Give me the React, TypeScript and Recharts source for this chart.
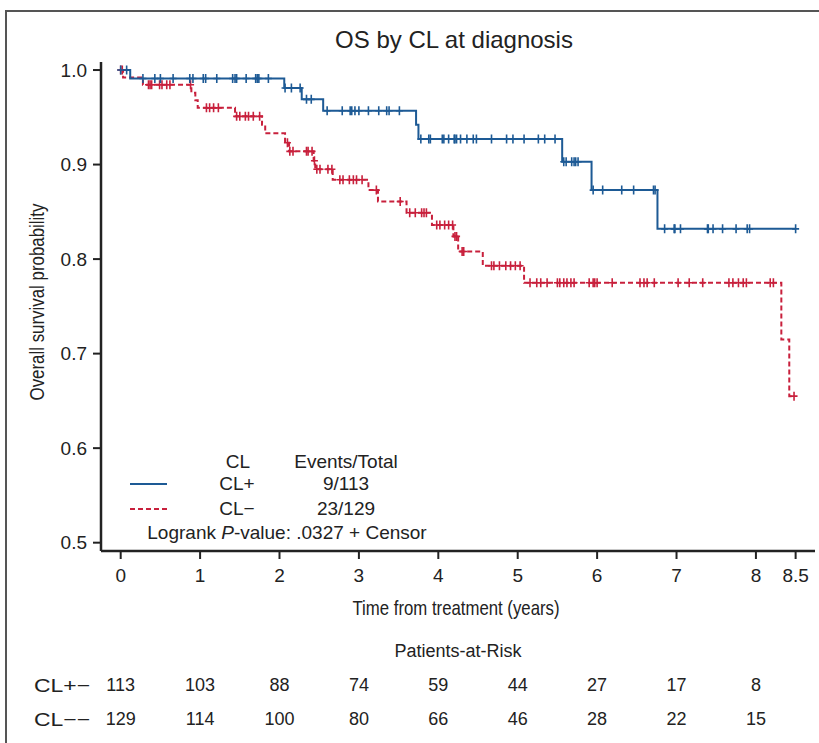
import React from "react";
import { ComposedChart, Line, Scatter, XAxis, YAxis } from "recharts";

const FONT = "'Liberation Sans', Arial, sans-serif";
const NARROW = "'Liberation Sans Narrow', 'Liberation Sans', Arial, sans-serif";
const BLUE = "#1d5a95";
const RED = "#c8203c";
const INK = "#222";

// CL+ Kaplan-Meier steps (years, survival)
const clPosTimes = [0, 0.12, 2.06, 2.28, 2.55, 3.72, 3.75, 5.56, 5.93, 6.76, 8.5];
const clPosSurv = [1.0, 0.991, 0.981, 0.969, 0.957, 0.942, 0.927, 0.903, 0.873, 0.832, 0.832];
const clPosCensor = [
  0, 0.075, 0.28, 0.43, 0.5, 0.66, 0.87, 0.91, 1.04, 1.07, 1.21, 1.41, 1.44, 1.46, 1.58, 1.7, 1.72,
  1.74, 1.86, 2.07, 2.15, 2.26, 2.34, 2.4, 2.6, 2.79, 2.89, 2.91, 2.95, 3.0, 3.12, 3.25, 3.35, 3.38,
  3.51, 3.78, 3.88, 3.9, 4.05, 4.07, 4.13, 4.2, 4.21, 4.23, 4.28, 4.36, 4.44, 4.48, 4.67, 4.86, 4.94,
  5.08, 5.26, 5.34, 5.47, 5.58, 5.61, 5.68, 5.71, 5.73, 5.76, 5.95, 6.07, 6.31, 6.46, 6.71, 6.73,
  6.85, 6.97, 6.98, 7.05, 7.39, 7.4, 7.46, 7.58, 7.75, 7.89, 7.92, 8.5,
];

// CL− Kaplan-Meier steps
const clNegTimes = [
  0, 0.03, 0.28, 0.89, 0.94, 0.97, 1.44, 1.78, 1.82, 2.07, 2.12, 2.43, 2.45, 2.67, 3.12, 3.24, 3.6,
  3.92, 4.19, 4.25, 4.56, 5.08, 8.32, 8.42, 8.48,
];
const clNegSurv = [
  1.0, 0.992, 0.9845, 0.976, 0.968, 0.96, 0.951, 0.942, 0.933, 0.923, 0.914, 0.904, 0.895, 0.884,
  0.873, 0.861, 0.849, 0.836, 0.824, 0.808, 0.793, 0.775, 0.715, 0.655, 0.655,
];
const clNegCensor = [
  0, 0.02, 0.35, 0.37, 0.39, 0.49, 0.52, 0.58, 0.62, 0.88, 1.08, 1.12, 1.17, 1.23, 1.46, 1.5, 1.57,
  1.61, 1.67, 1.75, 2.1, 2.13, 2.17, 2.34, 2.36, 2.41, 2.44, 2.47, 2.51, 2.61, 2.66, 2.76, 2.8, 2.88,
  2.93, 2.97, 3.04, 3.22, 3.52, 3.64, 3.71, 3.79, 3.82, 3.85, 3.98, 4.02, 4.08, 4.13, 4.18, 4.21,
  4.23, 4.3, 4.32, 4.67, 4.7, 4.77, 4.85, 4.91, 4.97, 5.03, 5.155, 5.24, 5.29, 5.37, 5.5, 5.53, 5.58,
  5.62, 5.67, 5.71, 5.9, 5.95, 5.97, 6.0, 6.19, 6.54, 6.59, 6.63, 6.72, 7.02, 7.16, 7.33, 7.66, 7.71,
  7.78, 7.84, 7.88, 8.18, 8.22, 8.48,
];

const xTicks = [0, 1, 2, 3, 4, 5, 6, 7, 8, 8.5];
const yTicks = [0.5, 0.6, 0.7, 0.8, 0.9, 1.0];
const X_DOMAIN: [number, number] = [-0.248, 8.744];

// Patients-at-risk table
const riskGroups = ["CL+−", "CL−−"];
const riskTimes = [0, 1, 2, 3, 4, 5, 6, 7, 8];
const riskPos = [113, 103, 88, 74, 59, 44, 27, 17, 8];
const riskNeg = [129, 114, 100, 80, 66, 46, 28, 22, 15];

function toSteps(times: number[], surv: number[]) {
  return times.map((t, i) => ({ t, s: surv[i] }));
}

function survAt(times: number[], surv: number[], t: number) {
  let s = surv[0];
  for (let i = 0; i < times.length; i++) if (times[i] <= t) s = surv[i];
  return s;
}

function toCensor(times: number[], surv: number[], cens: number[]) {
  return cens.map((t) => ({ t, s: survAt(times, surv, t) }));
}

const plusShape = (color: string) => (p: any) => (
  <path
    d={`M${p.cx - 3.5},${p.cy}h7M${p.cx},${p.cy - 4.5}v9`}
    stroke={color}
    strokeWidth={1.6}
    fill="none"
  />
);

const numberShape = (p: any) => (
  <text
    x={p.cx}
    y={p.cy}
    textAnchor="middle"
    dominantBaseline="central"
    fontSize={18}
    fontFamily={FONT}
    fill={INK}
  >
    {p.payload?.n}
  </text>
);

// row label, a bit wider than the default glyphs
const RowTick = (p: any) => (
  <text
    x={p.x}
    y={p.y}
    textAnchor="end"
    dominantBaseline="central"
    fontSize={19}
    fontFamily={FONT}
    fill={INK}
    textLength={56}
    lengthAdjust="spacingAndGlyphs"
  >
    {p.payload?.value}
  </text>
);

const centered = (x: number, y: number, size: number): React.CSSProperties => ({
  position: "absolute",
  left: x,
  top: y,
  transform: "translate(-50%, -50%)",
  fontSize: size,
  fontFamily: FONT,
  color: INK,
  lineHeight: 1,
  whiteSpace: "nowrap",
});

export default function App() {
  const posSteps = toSteps(clPosTimes, clPosSurv);
  const negSteps = toSteps(clNegTimes, clNegSurv);
  const posCens = toCensor(clPosTimes, clPosSurv, clPosCensor);
  const negCens = toCensor(clNegTimes, clNegSurv, clNegCensor);

  const riskData = [
    ...riskTimes.map((t, i) => ({ t, group: riskGroups[0], n: riskPos[i] })),
    ...riskTimes.map((t, i) => ({ t, group: riskGroups[1], n: riskNeg[i] })),
  ];

  return (
    <div style={{ position: "absolute", left: 0, top: 0, width: 819, height: 743, overflow: "hidden", background: "#fff" }}>
      {/* frame */}
      <div style={{ position: "absolute", left: 5, top: 10, width: 840, height: 760, borderTop: "2px solid #555", borderLeft: "2px solid #555" }} />

      <div style={centered(454, 40, 24)}>OS by CL at diagnosis</div>

      <div style={{ position: "absolute", left: 0, top: 0 }}>
        <ComposedChart width={819} height={743} margin={{ top: 62, right: 4, bottom: 132, left: 41 }}>
          <XAxis
            type="number"
            dataKey="t"
            domain={X_DOMAIN}
            allowDataOverflow
            ticks={xTicks}
            interval={0}
            tickFormatter={(v: number) => String(v)}
            height={60}
            tickSize={8}
            tickMargin={10}
            axisLine={{ stroke: INK, strokeWidth: 2.5 }}
            tickLine={{ stroke: INK, strokeWidth: 2 }}
            tick={{ fill: INK, fontSize: 19, fontFamily: FONT }}
          />
          <YAxis
            type="number"
            dataKey="s"
            domain={[0.4912, 1.0085]}
            allowDataOverflow
            ticks={yTicks}
            interval={0}
            tickFormatter={(v: number) => v.toFixed(1)}
            width={60}
            tickSize={8}
            tickMargin={6}
            axisLine={{ stroke: INK, strokeWidth: 2.5 }}
            tickLine={{ stroke: INK, strokeWidth: 2 }}
            tick={{ fill: INK, fontSize: 19, fontFamily: FONT }}
          />
          <Line
            data={negSteps}
            dataKey="s"
            type="stepAfter"
            stroke={RED}
            strokeWidth={2}
            strokeDasharray="5 3"
            dot={false}
            activeDot={false}
            isAnimationActive={false}
          />
          <Line
            data={posSteps}
            dataKey="s"
            type="stepAfter"
            stroke={BLUE}
            strokeWidth={2}
            dot={false}
            activeDot={false}
            isAnimationActive={false}
          />
          <Scatter data={negCens} dataKey="s" shape={plusShape(RED)} isAnimationActive={false} />
          <Scatter data={posCens} dataKey="s" shape={plusShape(BLUE)} isAnimationActive={false} />
        </ComposedChart>
      </div>

      {/* axis titles */}
      <svg width={819} height={743} style={{ position: "absolute", left: 0, top: 0, pointerEvents: "none" }}>
        <text
          x={456}
          y={615}
          textAnchor="middle"
          fontSize={21}
          fontFamily={NARROW}
          fill={INK}
          textLength={207}
          lengthAdjust="spacingAndGlyphs"
        >
          Time from treatment (years)
        </text>
        <text
          transform="translate(44, 302) rotate(-90)"
          textAnchor="middle"
          fontSize={21}
          fontFamily={NARROW}
          fill={INK}
          textLength={197}
          lengthAdjust="spacingAndGlyphs"
        >
          Overall survival probability
        </text>
      </svg>

      {/* legend */}
      <div style={centered(238, 461, 19)}>CL</div>
      <div style={centered(346, 461, 19)}>Events/Total</div>
      <div style={centered(237, 483, 19)}>CL+</div>
      <div style={centered(346, 483, 19)}>9/113</div>
      <div style={centered(237, 508, 19)}>CL−</div>
      <div style={centered(346, 508, 19)}>23/129</div>
      <svg width={50} height={40} style={{ position: "absolute", left: 125, top: 474 }}>
        <line x1={5} y1={10} x2={42} y2={10} stroke={BLUE} strokeWidth={2} />
        <line x1={5} y1={35} x2={42} y2={35} stroke={RED} strokeWidth={2} strokeDasharray="5 3" />
      </svg>
      <div style={{ ...centered(287, 532, 19) }}>
        Logrank <i>P</i>-value: .0327 + Censor
      </div>

      {/* risk table */}
      <div style={centered(458, 651, 18)}>Patients-at-Risk</div>
      <div style={{ position: "absolute", left: 0, top: 640 }}>
        <ComposedChart width={819} height={103} margin={{ top: 45, right: 4, bottom: 24, left: 41 }}>
          <XAxis type="number" dataKey="t" domain={X_DOMAIN} allowDataOverflow hide />
          <YAxis
            type="category"
            dataKey="group"
            allowDuplicatedCategory={false}
            reversed
            width={60}
            axisLine={false}
            tickLine={false}
            tickSize={0}
            tickMargin={11}
            tick={<RowTick />}
          />
          <Scatter data={riskData} dataKey="group" shape={numberShape} isAnimationActive={false} />
        </ComposedChart>
      </div>
    </div>
  );
}
